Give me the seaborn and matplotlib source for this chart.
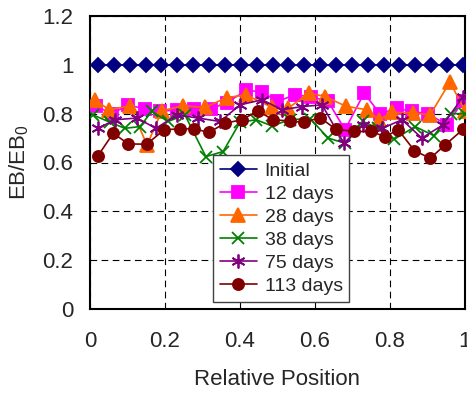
import matplotlib
matplotlib.use("Agg")
import matplotlib.pyplot as plt
import seaborn as sns
import pandas as pd

# ---- data ----
x_initial = [0.021, 0.063, 0.106, 0.148, 0.190, 0.233, 0.275, 0.317, 0.360, 0.402, 0.444, 0.487,
             0.529, 0.571, 0.613, 0.656, 0.698, 0.740, 0.783, 0.825, 0.867, 0.910, 0.952, 0.995]
y_initial = [1.0] * 24

x_12 = [0.016, 0.059, 0.101, 0.147, 0.187, 0.232, 0.277, 0.323, 0.365, 0.416, 0.459, 0.499,
        0.547, 0.589, 0.635, 0.680, 0.731, 0.773, 0.819, 0.859, 0.901, 0.952, 0.995]
y_12 = [0.83, 0.80, 0.835, 0.82, 0.81, 0.815, 0.82, 0.82, 0.845, 0.895, 0.89, 0.85,
        0.877, 0.87, 0.85, 0.734, 0.884, 0.80, 0.822, 0.809, 0.80, 0.754, 0.853]

x_28 = [0.013, 0.051, 0.107, 0.152, 0.192, 0.248, 0.307, 0.365, 0.416, 0.485, 0.528, 0.584,
        0.627, 0.683, 0.739, 0.771, 0.805, 0.861, 0.907, 0.960, 1.0]
y_28 = [0.857, 0.816, 0.832, 0.672, 0.812, 0.832, 0.826, 0.866, 0.877, 0.826, 0.822, 0.884,
        0.87, 0.83, 0.816, 0.775, 0.805, 0.803, 0.795, 0.93, 0.81]

x_38 = [0.008, 0.053, 0.093, 0.133, 0.165, 0.208, 0.253, 0.309, 0.355, 0.400, 0.443, 0.485,
        0.533, 0.587, 0.635, 0.680, 0.728, 0.768, 0.811, 0.867, 0.917, 0.963, 1.0]
y_38 = [0.795, 0.765, 0.74, 0.747, 0.809, 0.768, 0.795, 0.624, 0.645, 0.765, 0.775, 0.75,
        0.775, 0.78, 0.70, 0.679, 0.768, 0.74, 0.695, 0.747, 0.71, 0.80, 0.80]

x_75 = [0.021, 0.067, 0.125, 0.176, 0.232, 0.288, 0.347, 0.400, 0.459, 0.512, 0.565, 0.619,
        0.677, 0.728, 0.779, 0.832, 0.885, 0.941, 0.995]
y_75 = [0.74, 0.775, 0.782, 0.74, 0.795, 0.782, 0.768, 0.836, 0.857, 0.816, 0.829, 0.836,
        0.679, 0.754, 0.74, 0.775, 0.70, 0.754, 0.87]

x_113 = [0.021, 0.062, 0.102, 0.151, 0.198, 0.240, 0.278, 0.317, 0.360, 0.405, 0.447, 0.489,
         0.533, 0.571, 0.613, 0.656, 0.705, 0.749, 0.787, 0.822, 0.865, 0.907, 0.947, 0.995]
y_113 = [0.627, 0.72, 0.676, 0.675, 0.734, 0.738, 0.738, 0.723, 0.761, 0.775, 0.811, 0.775,
         0.77, 0.764, 0.784, 0.736, 0.727, 0.727, 0.706, 0.734, 0.649, 0.617, 0.672, 0.736]

labels = ["Initial", "12 days", "28 days", "38 days", "75 days", "113 days"]
xs = [x_initial, x_12, x_28, x_38, x_75, x_113]
ys = [y_initial, y_12, y_28, y_38, y_75, y_113]

x_ticks = [0, 0.2, 0.4, 0.6, 0.8, 1.0]
x_ticklabels = ["0", "0.2", "0.4", "0.6", "0.8", "1"]
y_ticks = [0, 0.2, 0.4, 0.6, 0.8, 1.0, 1.2]
y_ticklabels = ["0", "0.2", "0.4", "0.6", "0.8", "1", "1.2"]

# ---- styles ----
colors = ["#000080", "#FF00FF", "#FF6600", "#008000", "#800080", "#800000"]
markers = ["D", "s", "^", "x", (6, 2, 0), "o"]
msizes = [7, 8, 10, 8, 10, 8]

sns.set_style("white")
plt.rcParams["font.family"] = ["Liberation Sans", "DejaVu Sans"]
plt.rcParams["mathtext.fontset"] = "custom"
plt.rcParams["mathtext.rm"] = "Liberation Sans"
plt.rcParams["mathtext.it"] = "Liberation Sans"

fig = plt.figure(figsize=(4.67, 3.94), dpi=100)
ax = fig.add_axes([90 / 467, (394 - 309) / 394, 375 / 467, 293 / 394])

for lab, xv, yv, c, m, ms in zip(labels, xs, ys, colors, markers, msizes):
    df = pd.DataFrame({"x": xv, "y": yv})
    sns.lineplot(data=df, x="x", y="y", ax=ax, color=c, marker=m, markersize=ms,
                 markeredgecolor=c, markerfacecolor=c, markeredgewidth=1.3,
                 linewidth=1.2, label=lab, sort=False, zorder=3)

ax.set_xlim(0, 1)
ax.set_ylim(0, 1.2)
ax.set_xticks(x_ticks)
ax.set_xticklabels(x_ticklabels)
ax.set_yticks(y_ticks)
ax.set_yticklabels(y_ticklabels)
ax.tick_params(direction="in", length=5, width=1, labelsize=16, color="black")
ax.tick_params(axis="y", pad=12)
ax.tick_params(axis="x", pad=16)
ax.grid(True, linestyle=(0, (6, 4)), color="black", linewidth=0.8)
ax.set_axisbelow(True)
for s in ax.spines.values():
    s.set_color("black")
    s.set_linewidth(1.5)

ax.set_xlabel("Relative Position", fontsize=16, labelpad=12)
ax.set_ylabel(r"EB/EB$_{\mathrm{0}}$", fontsize=16, labelpad=8)

leg = ax.legend(loc="lower left", bbox_to_anchor=(0.328, 0.024), borderaxespad=0,
                fontsize=14, frameon=True, fancybox=False, handlelength=1.9,
                handletextpad=0.4, labelspacing=0.28, borderpad=0.35)
leg.get_frame().set_edgecolor("#404040")
leg.get_frame().set_linewidth(1.0)
leg.get_frame().set_alpha(1)

fig.savefig("out.png", dpi=100)
